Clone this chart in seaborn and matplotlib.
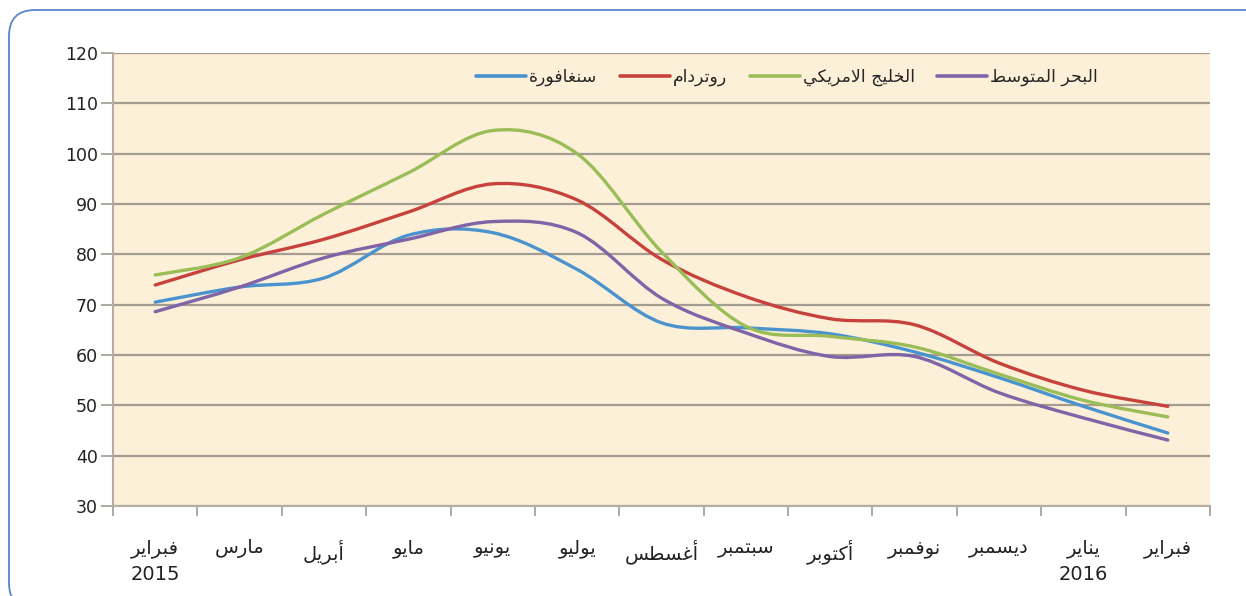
# أسعار النفط حسب المنطقة - فبراير 2015 إلى فبراير 2016
import numpy as np
import pandas as pd
import matplotlib
matplotlib.use("Agg")
import matplotlib.pyplot as plt
from matplotlib.path import Path
from matplotlib.patches import PathPatch, FancyBboxPatch
from matplotlib.lines import Line2D
from matplotlib.transforms import IdentityTransform
import seaborn as sns

# Data
months = ["فبراير", "مارس", "أبريل", "مايو", "يونيو", "يوليو", "أغسطس",
          "سبتمبر", "أكتوبر", "نوفمبر", "ديسمبر", "يناير", "فبراير"]
years = ["2015", "", "", "", "", "", "", "", "", "", "", "2016", ""]

series_names = ["سنغافورة", "روتردام", "الخليج الامريكي", "البحر المتوسط"]
singapore = [70.5, 73.5, 75.3, 83.8, 84.3, 77.0, 66.4, 65.4, 64.2, 60.6, 55.5, 49.8, 44.5]
rotterdam = [73.9, 78.9, 83.0, 88.4, 94.0, 90.8, 79.0, 71.6, 67.2, 66.0, 58.4, 53.0, 49.8]
us_gulf = [75.9, 79.3, 88.0, 96.2, 104.6, 100.0, 80.5, 65.7, 63.7, 61.6, 56.2, 51.0, 47.7]
mediterranean = [68.6, 73.5, 79.3, 83.0, 86.5, 84.3, 71.3, 64.4, 59.7, 59.7, 52.5, 47.5, 43.1]

colors = ["#4a93cf", "#c8423d", "#9bbd58", "#8064a8"]

# matplotlib has no Arabic shaping, so join letters by hand
# (isolated, final, initial, medial)
FORMS = {
    "ا": (0xFE8D, 0xFE8E, None, None),
    "أ": (0xFE83, 0xFE84, None, None),
    "ب": (0xFE8F, 0xFE90, 0xFE91, 0xFE92),
    "ة": (0xFE93, 0xFE94, None, None),
    "ت": (0xFE95, 0xFE96, 0xFE97, 0xFE98),
    "ج": (0xFE9D, 0xFE9E, 0xFE9F, 0xFEA0),
    "ح": (0xFEA1, 0xFEA2, 0xFEA3, 0xFEA4),
    "خ": (0xFEA5, 0xFEA6, 0xFEA7, 0xFEA8),
    "د": (0xFEA9, 0xFEAA, None, None),
    "ر": (0xFEAD, 0xFEAE, None, None),
    "س": (0xFEB1, 0xFEB2, 0xFEB3, 0xFEB4),
    "ط": (0xFEC1, 0xFEC2, 0xFEC3, 0xFEC4),
    "غ": (0xFECD, 0xFECE, 0xFECF, 0xFED0),
    "ف": (0xFED1, 0xFED2, 0xFED3, 0xFED4),
    "ك": (0xFED9, 0xFEDA, 0xFEDB, 0xFEDC),
    "ل": (0xFEDD, 0xFEDE, 0xFEDF, 0xFEE0),
    "م": (0xFEE1, 0xFEE2, 0xFEE3, 0xFEE4),
    "ن": (0xFEE5, 0xFEE6, 0xFEE7, 0xFEE8),
    "و": (0xFEED, 0xFEEE, None, None),
    "ي": (0xFEF1, 0xFEF2, 0xFEF3, 0xFEF4),
}
LAM_ALEF = {"ا": (0xFEFB, 0xFEFC), "أ": (0xFEF7, 0xFEF8)}


def dual(c):
    return c in FORMS and FORMS[c][2] is not None


def ar(text):
    chars = list(text)
    n = len(chars)
    res = []
    i = 0
    while i < n:
        c = chars[i]
        if c not in FORMS:
            res.append(c)
            i += 1
            continue
        prev = chars[i - 1] if i > 0 else None
        nxt = chars[i + 1] if i + 1 < n else None
        jp = prev is not None and dual(prev)
        if c == "ل" and nxt in LAM_ALEF:
            res.append(chr(LAM_ALEF[nxt][1 if jp else 0]))
            i += 2
            continue
        jn = dual(c) and nxt is not None and nxt in FORMS
        f = FORMS[c]
        if jp and jn:
            code = f[3]
        elif jp:
            code = f[1]
        elif jn:
            code = f[2]
        else:
            code = f[0]
        res.append(chr(code))
        i += 1
    return "".join(reversed(res))


df = pd.DataFrame({
    "pos": list(range(len(months))) * 4,
    "value": singapore + rotterdam + us_gulf + mediterranean,
    "series": sum([[s] * len(months) for s in series_names], []),
})

sns.set_theme(style="white")
plt.rcParams["font.family"] = ["DejaVu Sans"]

fig = plt.figure(figsize=(12.46, 5.96), dpi=100)
fig.patch.set_facecolor("white")
ax = fig.add_axes([0.0907, 0.1510, 0.8804, 0.7601])
ax.set_facecolor("#fcf0d8")

sns.lineplot(data=df, x="pos", y="value", hue="series", hue_order=series_names,
             palette=colors, legend=False, ax=ax)

# Excel-style smoothed lines: Bezier through the points seaborn drew
for line, c in zip(ax.lines, colors):
    xy = np.asarray(line.get_xydata())
    line.set_visible(False)
    n = len(xy)
    verts = [xy[0]]
    codes = [Path.MOVETO]
    for i in range(n - 1):
        p0 = xy[i - 1] if i > 0 else xy[i]
        p1, p2 = xy[i], xy[i + 1]
        p3 = xy[i + 2] if i + 2 < n else p2
        verts += [p1 + (p2 - p0) / 6, p2 - (p3 - p1) / 6, p2]
        codes += [Path.CURVE4] * 3
    ax.add_patch(PathPatch(Path(verts, codes), fill=False, edgecolor=c, lw=2.4,
                           capstyle="round", joinstyle="round", zorder=3))

ax.set_xlim(-0.5, len(months) - 0.5)
ax.set_ylim(30, 120)
ax.set_yticks(range(30, 121, 10))
ax.set_xticks(range(len(months)))
ax.set_xticklabels([ar(m) + ("\n" + y if y else "") for m, y in zip(months, years)],
                   fontsize=14, color="#222222", linespacing=1.45)
ax.set_xticks(np.arange(-0.5, len(months), 1), minor=True)
ax.tick_params(axis="x", which="major", bottom=True, length=0, pad=24)
ax.tick_params(axis="x", which="minor", bottom=True, length=7, width=1.3,
               color="#a8a298", direction="out")
ax.tick_params(axis="y", left=True, length=9, width=1.3, color="#a8a298", direction="out",
               labelsize=12.5, labelcolor="#222222", pad=2)
ax.set_xlabel("")
ax.set_ylabel("")

ax.grid(axis="y", color="#a39c91", lw=1.6)
ax.grid(axis="x", visible=False)
for s in ["top", "right"]:
    ax.spines[s].set_visible(False)
for s in ["left", "bottom"]:
    ax.spines[s].set_color("#b3ada3")
    ax.spines[s].set_linewidth(1.5)
ax.set_axisbelow(True)

handles = [Line2D([], [], color=c, lw=2.6) for c in colors]
ax.legend(handles, [ar(s) for s in series_names], ncol=4, frameon=False,
          loc="center right", bbox_to_anchor=(0.912, 0.947), fontsize=12.5,
          handlelength=2.9, handletextpad=0.15, columnspacing=1.3)

# rounded blue frame around the chart
frame = FancyBboxPatch((9, -13), 1300, 599, boxstyle="round,pad=0,rounding_size=26",
                       transform=IdentityTransform(), fill=False,
                       edgecolor="#5a86c8", lw=1.3)
fig.patches.append(frame)

fig.savefig("out.png", dpi=100)
